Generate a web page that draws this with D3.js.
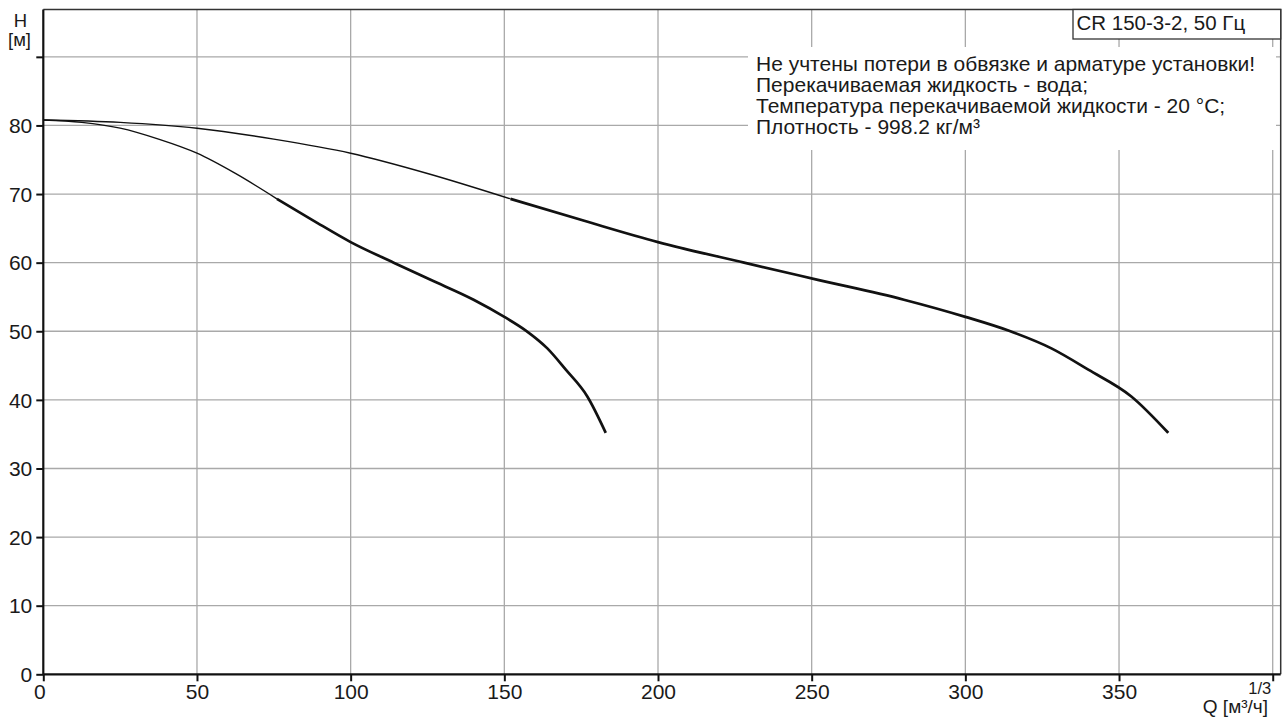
<!DOCTYPE html>
<html><head><meta charset="utf-8">
<script src="https://cdn.jsdelivr.net/npm/d3@7"></script>
<style>
body{margin:0;background:#fff}
svg{display:block}
text{font-family:"Liberation Sans",Arial,sans-serif;fill:#1a1a1a}
</style>
</head><body>
<svg id="c" width="1283" height="719"></svg>
<script>
// ---- data ----
const xTicks = [0, 50, 100, 150, 200, 250, 300, 350, 400];
const xTickLabels = ["0", "50", "100", "150", "200", "250", "300", "350", "1/3"];
const yTicks = [0, 10, 20, 30, 40, 50, 60, 70, 80, 90];
const yTickLabels = ["0", "10", "20", "30", "40", "50", "60", "70", "80", ""];

// single pump curve
const pump1Q = [0, 12.5, 25, 37.5, 50, 62.5, 76, 88, 100, 114, 126, 140, 150, 157, 164, 170, 177, 183];
const pump1H = [80.8, 80.45, 79.6, 78.0, 75.95, 73.0, 69.3, 66.1, 63.0, 60.0, 57.5, 54.6, 52.1, 50.1, 47.5, 44.4, 40.5, 35.2];
const pump1DutyFrom = 76;

// two pumps curve
const pump2Q = [0, 25, 50, 75, 100, 125, 152, 176, 200, 228, 252, 280, 300, 314, 328, 340, 354, 366];
const pump2H = [80.8, 80.45, 79.6, 78.0, 75.95, 73.0, 69.3, 66.1, 63.0, 60.0, 57.5, 54.6, 52.1, 50.1, 47.5, 44.4, 40.5, 35.2];
const pump2DutyFrom = 152;

const titleText = "CR 150-3-2, 50 Гц";
const noteLines = [
  "Не учтены потери в обвязке и арматуре установки!",
  "Перекачиваемая жидкость - вода;",
  "Температура перекачиваемой жидкости - 20 °C;",
  "Плотность - 998.2 кг/м³"
];

// ---- layout ----
const L = 43.3, R = 1280.7, T = 9.5, B = 674.3;
const FONT = '"Liberation Sans",Arial,sans-serif';
const svg = d3.select("#c");
const x = d3.scaleLinear().domain([0, 402.6]).range([L, R]);
const y = d3.scaleLinear().domain([0, 96.9]).range([B, T]);
const gridColor = "#a9a9a9";

// grid
svg.append("g").selectAll("line").data(xTicks.filter(d => d > 0)).join("line")
  .attr("x1", d => x(d)).attr("x2", d => x(d)).attr("y1", T).attr("y2", B)
  .attr("stroke", gridColor).attr("stroke-width", 1.3);
svg.append("g").selectAll("line").data(yTicks.filter(d => d > 0)).join("line")
  .attr("x1", L).attr("x2", R).attr("y1", d => y(d)).attr("y2", d => y(d))
  .attr("stroke", gridColor).attr("stroke-width", 1.3);

// note background
svg.append("rect").attr("x", 748).attr("y", 47).attr("width", 528).attr("height", 103).attr("fill", "#fff");

// curves
const line = d3.line().x(d => x(d[0])).y(d => y(d[1])).curve(d3.curveMonotoneX);
function drawCurve(Q, H, from) {
  const pts = Q.map((q, i) => [q, H[i]]);
  svg.append("path").datum(pts.filter(p => p[0] <= from)).attr("d", line)
    .attr("fill", "none").attr("stroke", "#111").attr("stroke-width", 1.4);
  svg.append("path").datum(pts.filter(p => p[0] >= from)).attr("d", line)
    .attr("fill", "none").attr("stroke", "#111").attr("stroke-width", 2.7).attr("stroke-linejoin", "round");
}
drawCurve(pump1Q, pump1H, pump1DutyFrom);
drawCurve(pump2Q, pump2H, pump2DutyFrom);

// frame (top/right)
svg.append("path").attr("d", `M${L},${T}H${R}V${B}`).attr("fill", "none")
  .attr("stroke", "#333").attr("stroke-width", 1.5);

// axes
const xAxis = d3.axisBottom(x).tickValues(xTicks).tickSize(7).tickSizeOuter(0)
  .tickFormat((d, i) => xTickLabels[i]);
const gx = svg.append("g").attr("transform", `translate(0,${B})`).call(xAxis);
gx.select(".domain").attr("d", `M${L},0H${R}`).attr("stroke", "#111").attr("stroke-width", 2.2);
gx.selectAll(".tick line").attr("stroke", "#111").attr("stroke-width", 2);
gx.selectAll(".tick text").attr("font-size", 21).attr("fill", "#1a1a1a")
  .attr("font-family", FONT).attr("dy", 0).attr("y", 25);
gx.selectAll(".tick").filter(d => d === 0).select("text").attr("dx", -4);
gx.selectAll(".tick").filter(d => d === 400).select("text")
  .attr("font-size", 16.5).attr("text-anchor", "end").attr("dx", -2).attr("y", 20);

const yAxis = d3.axisLeft(y).tickValues(yTicks).tickSize(7).tickSizeOuter(0)
  .tickFormat((d, i) => yTickLabels[i]);
const gy = svg.append("g").attr("transform", `translate(${L},0)`).call(yAxis);
gy.select(".domain").attr("d", `M0,${T}V${B}`).attr("stroke", "#111").attr("stroke-width", 2.2);
gy.selectAll(".tick line").attr("stroke", "#111").attr("stroke-width", 2);
gy.selectAll(".tick text").attr("font-size", 21).attr("fill", "#1a1a1a")
  .attr("font-family", FONT).attr("x", -11).attr("dy", "0.34em");

// axis titles
svg.append("text").attr("x", 20.5).attr("y", 27).attr("text-anchor", "middle").attr("font-size", 18.5).text("H");
svg.append("text").attr("x", 19.5).attr("y", 46).attr("text-anchor", "middle").attr("font-size", 18.5).text("[м]");
svg.append("text").attr("x", 1268).attr("y", 712.5).attr("text-anchor", "end").attr("font-size", 19).text("Q [м³/ч]");

// title box
svg.append("rect").attr("x", 1073).attr("y", T).attr("width", R - 1073).attr("height", 29.5)
  .attr("fill", "#fff").attr("stroke", "#333").attr("stroke-width", 1.3);
svg.append("text").attr("x", 1076.5).attr("y", 30).attr("font-size", 20.5).text(titleText);

// note
svg.append("g").selectAll("text").data(noteLines).join("text")
  .attr("x", 756).attr("y", (d, i) => 70.5 + i * 21).attr("font-size", 21).text(d => d);
</script>
</body></html>
